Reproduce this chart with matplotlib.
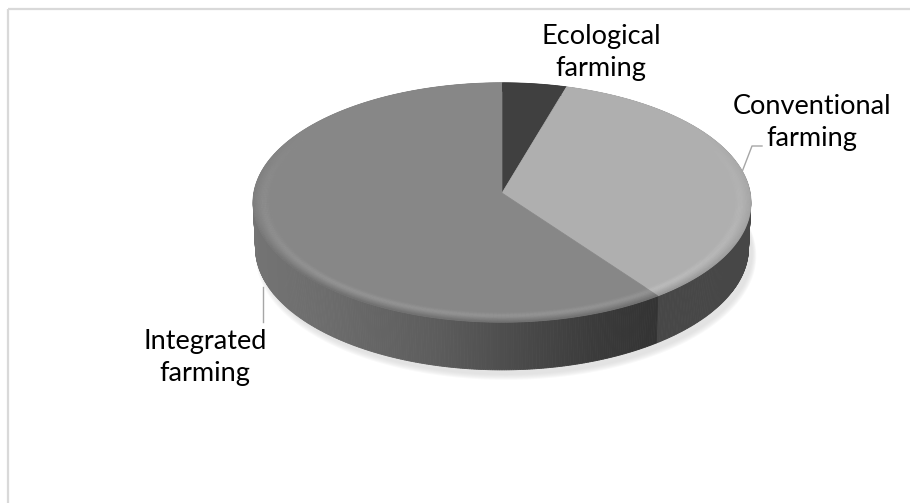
import numpy as np
import matplotlib
matplotlib.use("Agg")
import matplotlib.pyplot as plt
from matplotlib.patches import Polygon
from matplotlib.collections import LineCollection

# Share of farming systems
categories = ["Ecological\nfarming", "Conventional\nfarming", "Integrated\nfarming"]
shares = [4.5, 35.5, 60.0]

top_colors = ["#404040", "#afafaf", "#878787"]
side_colors = ["#303030", "#474747", None]  # integrated side uses a gradient

W, H = 910, 503
fig = plt.figure(figsize=(W / 100, H / 100), dpi=100)
ax = fig.add_axes([0, 0, 1, 1])
ax.set_xlim(0, W)
ax.set_ylim(H, 0)
ax.axis("off")

# chart area frame
ax.plot([8, W], [9, 9], color="#d9d9d9", lw=1.6, solid_capstyle="butt")
ax.plot([8, 8], [9, H], color="#d9d9d9", lw=1.6, solid_capstyle="butt")

# perspective camera for the tilted disc
CX, CY = 502.0, 193.0
ALPHA = np.radians(28.6)
DIST = 11.03
FOCAL = 2735.0
THICK = 0.21


def project(phi_deg, r=1.0, h=0.0):
    phi = np.radians(phi_deg)
    X = r * np.sin(phi)
    Z = r * np.cos(phi)
    yc = h * np.cos(ALPHA) + Z * np.sin(ALPHA)
    dep = DIST + Z * np.cos(ALPHA) - h * np.sin(ALPHA)
    return CX + FOCAL * X / dep, CY - FOCAL * yc / dep


def gray(v):
    v = float(np.clip(v, 0, 255)) / 255.0
    return (v, v, v)


# slice angles, clockwise from 12 o'clock
bounds = np.concatenate([[0.0], np.cumsum(shares)]) / np.sum(shares) * 360.0

# faint drop shadow under the disc, mostly towards the front right
phis_full = np.linspace(0, 360, 361)
for k, a in zip(np.linspace(0.04, 0.0, 6), np.linspace(0.025, 0.012, 6)):
    sx, sy = project(phis_full, r=1.0 + k * 0.4, h=-THICK - k * 0.3)
    ax.add_patch(Polygon(np.column_stack([sx + 4, sy + 5]), closed=True,
                         facecolor="#000000", edgecolor="none", alpha=a, zorder=1))


def integrated_side_shade(x):
    xs = [253, 330, 440, 530, 600, 660]
    vs = [0x74, 0x6c, 0x5c, 0x48, 0x3a, 0x33]
    return np.interp(x, xs, vs)


# side wall, drawn back to front
quads = []
step = 0.5
for i in range(len(shares)):
    a0, a1 = bounds[i], bounds[i + 1]
    ph = np.arange(a0, a1, step)
    ph = np.append(ph, a1)
    for p0, p1 in zip(ph[:-1], ph[1:]):
        x0t, y0t = project(p0)
        x1t, y1t = project(p1)
        x0b, y0b = project(p0, h=-THICK)
        x1b, y1b = project(p1, h=-THICK)
        pm = 0.5 * (p0 + p1)
        depth = np.cos(np.radians(pm))
        if side_colors[i] is None:
            col = gray(integrated_side_shade(0.5 * (x0t + x1t)))
        else:
            col = side_colors[i]
        quads.append((depth, [(x0t, y0t), (x1t, y1t), (x1b, y1b), (x0b, y0b)], col))

quads.sort(key=lambda q: -q[0])
for depth, pts, col in quads:
    ax.add_patch(Polygon(pts, closed=True, facecolor=col, edgecolor=col,
                         lw=0.6, zorder=2))

# top faces
for i in range(len(shares)):
    ph = np.linspace(bounds[i], bounds[i + 1], 200)
    sx, sy = project(ph)
    pts = np.column_stack([np.concatenate([[CX], sx]), np.concatenate([[CY], sy])])
    ax.add_patch(Polygon(pts, closed=True, facecolor=top_colors[i],
                         edgecolor=top_colors[i], lw=0.5, zorder=3))

# soft bevel along the rim of the top faces
base_vals = [0x40, 0xaf, 0x87]
radii = np.linspace(0.92, 1.0, 16)
for i in range(len(shares)):
    ph = np.linspace(bounds[i], bounds[i + 1], 240)
    w = np.clip((-np.cos(np.radians(ph)) + 0.55) / 1.3, 0, 1)
    for r in radii:
        t = (r - 0.92) / 0.08
        # light ridge a little inside the rim, darker roll-off at the edge
        delta = 12 * np.exp(-((t - 0.45) / 0.2) ** 2) - 22 * np.clip((t - 0.6) / 0.4, 0, 1) ** 1.5
        sx, sy = project(ph, r=r)
        segs = [[(sx[j], sy[j]), (sx[j + 1], sy[j + 1])] for j in range(len(ph) - 1)]
        cols = []
        for j in range(len(ph) - 1):
            ww = 0.5 * (w[j] + w[j + 1])
            cols.append(gray(base_vals[i] + ww * delta))
        ax.add_collection(LineCollection(segs, colors=cols, linewidths=1.0, zorder=4))

# category labels
font = ["Lato", "DejaVu Sans"]
label_pos = [(601, 52), (812, 122), (205, 358)]
for text, (lx, ly) in zip(categories, label_pos):
    ax.text(lx, ly, text, ha="center", va="center", fontsize=19.5,
            family=font, color="#000000", linespacing=1.35, zorder=6)

# leader lines
ax.plot([742, 752, 762], [172, 146, 146], color="#a6a6a6", lw=1.0, zorder=5)
ax.plot([263, 263], [287, 322], color="#a6a6a6", lw=1.0, zorder=5)

fig.savefig("out.png", dpi=100, facecolor="white")
